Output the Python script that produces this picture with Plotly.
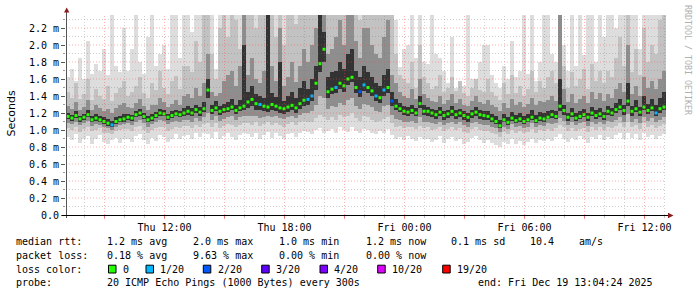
import plotly.graph_objects as go
import pandas as pd

# ---------------- data (ms) ----------------
START = "2025-12-18 07:04:24"
END = "2025-12-19 13:04:24"
STEP_MIN = 12

med = [
 1.16,1.14,1.17,1.13,1.15,1.18,1.12,1.14,1.12,1.10,1.08,1.06,1.10,1.12,1.13,
 1.15,1.14,1.18,1.20,1.16,1.12,1.14,1.17,1.20,1.19,1.15,1.17,1.19,1.18,1.20,
 1.22,1.20,1.24,1.21,1.25,1.47,1.23,1.26,1.22,1.24,1.25,1.27,1.23,1.26,1.28,
 1.33,1.36,1.31,1.30,1.28,1.27,1.30,1.28,1.26,1.25,1.27,1.29,1.26,1.31,1.35,
 1.36,1.40,1.55,1.78,1.95,1.45,1.48,1.50,1.55,1.52,1.60,1.62,1.50,1.45,1.53,
 1.50,1.46,1.40,1.38,1.47,1.50,1.34,1.28,1.25,1.22,1.21,1.23,1.20,1.31,1.22,
 1.22,1.20,1.18,1.21,1.17,1.19,1.22,1.18,1.20,1.17,1.15,1.19,1.21,1.18,1.17,
 1.16,1.13,1.10,1.05,1.12,1.09,1.14,1.11,1.13,1.10,1.12,1.15,1.11,1.14,1.13,
 1.15,1.18,1.16,1.28,1.23,1.15,1.19,1.14,1.16,1.18,1.15,1.20,1.17,1.19,1.16,
 1.22,1.20,1.24,1.27,1.23,1.34,1.22,1.25,1.21,1.27,1.23,1.26,1.20,1.25,1.27,
]
lo0 = [
 0.92,0.88,0.95,0.85,0.90,0.93,0.84,0.89,0.94,0.86,0.83,0.88,0.91,0.85,0.90,
 0.90,0.86,0.93,0.95,0.88,0.84,0.91,0.87,0.94,0.92,0.86,0.89,0.95,0.90,0.93,
 0.94,0.90,0.96,0.92,0.97,0.95,0.91,0.98,0.89,0.93,0.96,0.92,0.88,0.94,0.97,
 0.95,0.92,0.97,0.90,0.94,0.98,0.91,0.96,0.93,0.89,0.95,0.97,0.92,0.96,0.99,
 0.98,0.95,1.00,1.02,0.96,0.99,1.01,0.97,1.03,1.00,0.98,1.04,0.99,0.96,1.01,
 1.00,0.97,0.95,0.99,0.96,1.01,0.94,0.90,0.92,0.88,0.93,0.90,0.87,0.92,0.89,
 0.90,0.86,0.88,0.93,0.85,0.89,0.92,0.87,0.90,0.84,0.86,0.91,0.93,0.88,0.85,
 0.88,0.85,0.82,0.80,0.86,0.83,0.89,0.84,0.87,0.82,0.86,0.90,0.85,0.88,0.87,
 0.90,0.87,0.92,0.95,0.89,0.86,0.91,0.88,0.93,0.90,0.85,0.92,0.89,0.94,0.88,
 0.92,0.89,0.94,0.96,0.90,0.97,0.91,0.95,0.88,0.96,0.92,0.94,0.89,0.93,0.95,
]
lo1 = [
 1.02,1.00,1.04,0.98,1.01,1.03,0.99,1.00,1.02,0.97,0.96,0.95,0.99,1.00,1.01,
 1.01,0.99,1.03,1.05,1.00,0.97,1.00,1.02,1.04,1.03,0.99,1.01,1.04,1.02,1.05,
 1.05,1.02,1.06,1.03,1.07,1.08,1.04,1.08,1.02,1.05,1.07,1.06,1.03,1.06,1.08,
 1.08,1.06,1.09,1.05,1.07,1.10,1.06,1.08,1.06,1.04,1.07,1.09,1.06,1.09,1.11,
 1.10,1.09,1.14,1.18,1.15,1.12,1.15,1.12,1.18,1.15,1.16,1.20,1.14,1.11,1.16,
 1.15,1.12,1.10,1.11,1.13,1.15,1.08,1.04,1.05,1.02,1.04,1.03,1.01,1.05,1.02,
 1.03,1.00,1.01,1.04,0.99,1.01,1.03,1.00,1.02,0.98,0.97,1.01,1.03,1.00,0.99,
 0.99,0.97,0.95,0.92,0.98,0.95,1.00,0.97,0.99,0.96,0.98,1.01,0.97,1.00,0.99,
 1.01,0.99,1.02,1.06,1.03,0.99,1.02,0.99,1.01,1.02,0.98,1.03,1.00,1.03,1.00,
 1.04,1.02,1.05,1.08,1.03,1.10,1.03,1.06,1.01,1.08,1.04,1.06,1.02,1.05,1.07,
]
lo2 = [
 1.08,1.07,1.10,1.06,1.08,1.11,1.05,1.07,1.06,1.04,1.02,1.00,1.04,1.06,1.07,
 1.08,1.06,1.10,1.12,1.08,1.04,1.07,1.09,1.12,1.11,1.07,1.09,1.11,1.10,1.12,
 1.12,1.10,1.14,1.11,1.15,1.20,1.12,1.16,1.11,1.13,1.15,1.16,1.12,1.15,1.17,
 1.17,1.16,1.16,1.14,1.15,1.16,1.15,1.16,1.14,1.13,1.15,1.17,1.14,1.18,1.20,
 1.20,1.22,1.30,1.40,1.38,1.25,1.28,1.27,1.32,1.30,1.35,1.38,1.28,1.25,1.31,
 1.30,1.27,1.22,1.21,1.28,1.30,1.18,1.13,1.12,1.09,1.10,1.11,1.08,1.15,1.10,
 1.10,1.08,1.07,1.10,1.06,1.08,1.10,1.07,1.09,1.06,1.04,1.08,1.10,1.07,1.06,
 1.06,1.04,1.02,0.98,1.04,1.01,1.07,1.03,1.05,1.02,1.04,1.08,1.03,1.06,1.05,
 1.08,1.07,1.08,1.14,1.11,1.06,1.09,1.06,1.08,1.09,1.05,1.10,1.07,1.10,1.07,
 1.11,1.09,1.12,1.15,1.10,1.19,1.10,1.13,1.08,1.15,1.11,1.14,1.09,1.12,1.15,
]
lo3 = [
 1.13,1.11,1.14,1.10,1.12,1.15,1.09,1.11,1.10,1.07,1.05,1.03,1.07,1.09,1.10,
 1.12,1.11,1.15,1.17,1.13,1.09,1.11,1.14,1.17,1.16,1.12,1.14,1.16,1.15,1.17,
 1.18,1.16,1.20,1.17,1.21,1.38,1.19,1.22,1.18,1.20,1.21,1.23,1.19,1.22,1.24,
 1.26,1.28,1.24,1.23,1.22,1.21,1.23,1.22,1.20,1.19,1.21,1.23,1.20,1.25,1.28,
 1.30,1.34,1.47,1.68,1.80,1.38,1.42,1.43,1.48,1.45,1.53,1.56,1.43,1.39,1.46,
 1.43,1.40,1.34,1.32,1.40,1.44,1.28,1.23,1.21,1.18,1.17,1.19,1.16,1.26,1.18,
 1.17,1.15,1.13,1.16,1.12,1.14,1.17,1.13,1.15,1.12,1.10,1.14,1.16,1.13,1.12,
 1.12,1.09,1.07,1.02,1.09,1.06,1.11,1.08,1.10,1.07,1.09,1.12,1.08,1.11,1.10,
 1.13,1.14,1.13,1.22,1.18,1.11,1.15,1.11,1.13,1.15,1.11,1.16,1.13,1.15,1.12,
 1.18,1.16,1.20,1.23,1.18,1.28,1.17,1.21,1.16,1.23,1.19,1.22,1.16,1.20,1.23,
]
hi3 = [
 1.20,1.18,1.22,1.17,1.19,1.23,1.16,1.19,1.17,1.15,1.13,1.11,1.15,1.17,1.19,
 1.19,1.18,1.22,1.25,1.20,1.16,1.19,1.21,1.25,1.23,1.19,1.22,1.24,1.22,1.26,
 1.28,1.26,1.30,1.27,1.33,1.60,1.29,1.34,1.28,1.31,1.33,1.36,1.30,1.35,2.00,
 1.45,1.52,1.42,1.40,1.38,2.50,1.44,1.39,1.80,1.34,1.40,1.45,1.38,1.50,1.58,
 1.48,1.60,1.75,2.50,2.15,1.62,1.68,1.70,1.80,1.72,1.90,1.95,1.70,1.62,1.75,
 1.68,1.62,1.55,1.52,1.65,1.72,1.45,1.36,1.32,1.28,1.27,1.30,1.26,1.40,1.29,
 1.27,1.25,1.23,1.27,1.22,1.24,1.28,1.23,1.25,1.22,1.20,1.24,1.27,1.23,1.22,
 1.22,1.19,1.16,1.12,1.19,1.15,1.21,1.18,1.20,1.16,1.19,1.23,1.18,1.21,1.20,
 1.22,1.24,1.22,1.60,1.30,1.20,1.26,1.20,1.22,1.25,1.20,1.27,1.23,1.26,1.21,
 1.28,1.26,1.32,1.36,1.30,1.55,1.28,1.35,1.27,1.40,1.31,1.36,1.30,1.38,1.45,
]
hi2 = [
 1.28,1.25,1.33,1.24,1.27,1.35,1.23,1.30,1.26,1.22,1.25,1.20,1.26,1.29,1.32,
 1.27,1.26,1.32,1.36,1.28,1.24,1.30,1.29,1.38,1.33,1.27,1.31,1.35,1.30,1.40,
 1.42,1.38,1.50,1.40,1.55,1.90,1.45,1.40,1.44,1.58,1.65,1.70,1.52,1.75,2.50,
 1.65,1.85,1.60,1.55,1.70,2.50,1.75,1.58,2.20,1.52,1.62,1.80,1.57,1.75,1.95,
 1.80,2.00,2.20,2.50,2.50,1.90,1.95,2.10,2.30,2.00,2.40,2.50,2.05,1.85,2.20,
 2.20,2.00,1.90,1.85,2.10,2.30,1.65,1.55,1.45,1.40,1.38,1.48,1.36,1.60,1.42,
 1.38,1.34,1.33,1.40,1.31,1.35,1.42,1.32,1.36,1.30,1.28,1.34,1.40,1.33,1.31,
 1.35,1.30,1.27,1.22,1.32,1.26,1.36,1.29,1.33,1.27,1.31,1.38,1.30,1.34,1.33,
 1.35,1.40,1.34,2.50,1.48,1.33,1.42,1.32,1.36,1.40,1.32,1.45,1.37,1.44,1.34,
 1.42,1.38,1.48,1.55,1.45,2.00,1.42,1.52,1.40,1.62,1.50,1.58,1.48,1.60,1.70,
]
hi1 = [
 1.45,1.38,1.55,1.36,1.42,1.60,1.35,1.48,1.40,1.37,1.52,1.34,1.44,1.50,1.58,
 1.40,1.45,1.52,1.62,1.43,1.38,1.55,1.47,1.70,1.50,1.42,1.58,1.64,1.48,1.75,
 1.75,1.68,2.05,1.80,2.50,2.50,1.90,1.60,2.20,2.50,2.10,2.50,2.30,1.95,2.50,
 2.50,2.50,2.20,2.50,2.35,2.50,2.50,2.10,2.50,2.00,2.50,2.50,2.25,2.50,2.50,
 2.50,2.50,2.50,2.50,2.50,2.40,2.50,2.50,2.50,2.35,2.50,2.50,2.50,2.30,2.50,
 2.50,2.50,2.50,2.50,2.50,2.50,2.50,1.90,1.65,1.60,1.55,1.80,1.50,2.00,1.62,
 1.55,1.48,1.52,1.65,1.45,1.50,1.62,1.46,1.58,1.44,1.40,1.50,1.60,1.47,1.45,
 1.60,1.45,1.40,1.35,1.55,1.42,1.65,1.44,1.52,1.40,1.48,1.70,1.45,1.58,1.50,
 1.62,1.70,1.55,2.50,1.75,1.50,1.68,1.52,1.60,1.72,1.48,1.78,1.58,1.70,1.55,
 1.70,1.62,1.85,2.10,1.75,2.50,1.68,1.95,1.65,2.20,1.80,2.00,1.90,2.30,2.50,
]
hi0 = [
 1.62,1.72,1.58,1.85,1.60,2.05,1.66,1.78,1.70,1.95,1.65,2.50,1.75,1.68,2.20,
 1.70,1.95,2.50,1.80,1.66,2.10,2.50,1.75,1.90,2.00,1.72,2.50,2.50,1.85,2.50,
 2.50,2.15,2.50,2.50,2.50,2.50,2.50,1.72,2.50,2.50,2.50,2.50,2.50,2.50,2.50,
 2.50,2.50,2.50,2.50,2.50,2.50,2.50,2.50,2.50,2.50,2.50,2.50,2.50,2.50,2.50,
 2.50,2.50,2.50,2.50,2.50,2.50,2.50,2.50,2.50,2.50,2.50,2.50,2.50,2.50,2.50,
 2.50,2.50,2.50,2.50,2.50,2.50,2.50,2.30,1.74,1.95,2.00,2.50,1.85,2.50,1.80,
 1.78,2.50,1.90,1.85,1.70,1.55,2.10,1.50,1.48,1.52,2.50,1.60,1.55,1.80,2.00,
 2.00,1.65,1.55,1.50,1.75,1.60,2.05,1.62,1.70,2.50,1.66,2.50,1.58,1.80,2.50,
 2.50,1.90,1.80,2.50,2.00,1.70,2.50,1.75,2.50,1.88,2.50,2.50,1.80,2.50,2.10,
 2.50,2.50,2.20,2.50,2.50,2.50,2.50,2.50,1.95,2.50,2.50,2.50,2.50,2.50,2.50,
]
# lost pings (out of 20) per step
loss = [0]*150
for idx, v in [(11,1),(48,1),(60,1),(61,1),(67,1),(73,2),(74,1),(77,1),(79,1),(81,2),(147,1)]:
    loss[idx] = v

loss_levels = ["0", "1/20", "2/20", "3/20", "4/20", "10/20", "19/20"]
loss_colors = ["#26ff00", "#00b8ff", "#0059ff", "#5e00ff", "#7e00ff", "#dd00ff", "#ff0000"]
loss_count = [0, 1, 2, 3, 4, 10, 19]

y_tickvals = [0.0, 0.2, 0.4, 0.6, 0.8, 1.0, 1.2, 1.4, 1.6, 1.8, 2.0, 2.2]
y_ticktext = ["0.0"] + ["%.1f m" % v for v in y_tickvals[1:]]
x_label_times = ["2025-12-18 12:00", "2025-12-18 18:00", "2025-12-19 00:00",
                 "2025-12-19 06:00", "2025-12-19 12:00"]
x_label_text = ["Thu 12:00", "Thu 18:00", "Fri 00:00", "Fri 06:00", "Fri 12:00"]

legend_rows = [
    [(16, "median rtt:"), (107.3, "1.2 ms avg"), (193.3, "2.0 ms max"), (279.3, "1.0 ms min"),
     (366, "1.2 ms now"), (451, "0.1 ms sd"), (530, "10.4"), (579, "am/s")],
    [(16, "packet loss:"), (107.3, "0.18 % avg"), (193.3, "9.63 % max"), (279.3, "0.00 % min"),
     (366, "0.00 % now")],
    [(16, "loss color:")],
    [(16, "probe:"), (107.3, "20 ICMP Echo Pings (1000 Bytes) every 300s"),
     (478.3, "end: Fri Dec 19 13:04:24 2025")],
]
legend_row_y = [241.5, 255.2, 269, 282.8]
loss_box_x = [108.5, 146, 203.3, 261.7, 320, 377.7, 442.7]

# ---------------- layout geometry ----------------
WIDTH, HEIGHT = 697, 297
L, T, PW, PH = 66, 15, 600, 200
YMAX = PH / 85.0
MONO = "DejaVu Sans Mono"

def pxx(x):
    return (x - L) / PW

def pxy(y):
    return (T + PH - y) / PH

t0 = pd.Timestamp(START)
times = [t0 + pd.Timedelta(minutes=STEP_MIN * (i + 0.5)) for i in range(len(med))]
bar_w = STEP_MIN * 60 * 1000

fig = go.Figure()
bands = [(lo0, hi0, "#dddddd"), (lo1, hi1, "#c2c2c2"), (lo2, hi2, "#8e8e8e"), (lo3, hi3, "#333333")]
for lo, hi, col in bands:
    fig.add_trace(go.Bar(x=times, base=lo, y=[h - l for l, h in zip(lo, hi)], width=bar_w,
                         marker=dict(color=col, line=dict(width=0)), hoverinfo="skip",
                         showlegend=False))

fig.add_trace(go.Scatter(x=times, y=med, mode="markers",
                         marker=dict(symbol="square", size=3, line=dict(width=0),
                                     color=[loss_colors[loss_count.index(l)] for l in loss]),
                         showlegend=False, hoverinfo="skip"))

RED = "rgba(255,70,70,0.42)"
GREY = "rgba(120,120,120,0.35)"
shapes = []
# grid (drawn above the smoke like rrdtool)
for h in range(8, 38):
    t = pd.Timestamp("2025-12-18") + pd.Timedelta(hours=h)
    red = (h % 3 == 0)
    shapes.append(dict(type="line", xref="x", yref="paper", x0=t, x1=t, y0=0, y1=1, layer="above",
                       line=dict(color=RED if red else GREY, width=1, dash="1px,2px")))
for k in range(1, 24):
    v = k / 10.0
    red = (k % 2 == 0)
    shapes.append(dict(type="line", xref="paper", yref="y", x0=0, x1=1, y0=v, y1=v, layer="above",
                       line=dict(color=RED if red else GREY, width=1, dash="1px,2px")))
# axes + arrows
shapes.append(dict(type="line", xref="paper", yref="paper", x0=pxx(66.5), x1=pxx(66.5),
                   y0=pxy(218), y1=pxy(11), line=dict(color="#555555", width=1), layer="above"))
shapes.append(dict(type="line", xref="paper", yref="paper", x0=pxx(62), x1=pxx(669),
                   y0=pxy(215.5), y1=pxy(215.5), line=dict(color="#000000", width=1), layer="above"))
shapes.append(dict(type="path", xref="paper", yref="paper", layer="above",
                   path="M %f %f L %f %f L %f %f Z" % (pxx(64), pxy(12.5), pxx(66.7), pxy(7.5), pxx(69.4), pxy(12.5)),
                   fillcolor="#8b1a1a", line=dict(width=0)))
shapes.append(dict(type="path", xref="paper", yref="paper", layer="above",
                   path="M %f %f L %f %f L %f %f Z" % (pxx(668), pxy(212.8), pxx(673.5), pxy(215.5), pxx(668), pxy(218.2)),
                   fillcolor="#8b1a1a", line=dict(width=0)))
# loss colour boxes
for bx, col in zip(loss_box_x, loss_colors):
    shapes.append(dict(type="rect", xref="paper", yref="paper", x0=pxx(bx), x1=pxx(bx + 7.5),
                       y0=pxy(273), y1=pxy(265.2), fillcolor=col, line=dict(color="#000", width=1)))

ann = []
for row, yy in zip(legend_rows, legend_row_y):
    for xx, txt in row:
        ann.append(dict(text=txt, x=pxx(xx), y=pxy(yy), xref="paper", yref="paper",
                        xanchor="left", yanchor="middle", showarrow=False, borderpad=0, borderwidth=0,
                        font=dict(family=MONO, size=10, color="#000")))
for bx, lab in zip(loss_box_x, loss_levels):
    ann.append(dict(text=lab, x=pxx(bx + 14.3), y=pxy(269), xref="paper", yref="paper",
                    xanchor="left", yanchor="middle", showarrow=False, borderpad=0, borderwidth=0,
                    font=dict(family=MONO, size=10, color="#000")))
ann.append(dict(text="Seconds", x=pxx(10.5), y=pxy(114), xref="paper", yref="paper",
                textangle=-90, showarrow=False, xanchor="center", yanchor="middle",
                font=dict(family="DejaVu Sans", size=11, color="#000")))
ann.append(dict(text="RRDTOOL / TOBI OETIKER", x=pxx(688), y=pxy(60), xref="paper", yref="paper",
                textangle=90, showarrow=False, xanchor="center", yanchor="middle",
                font=dict(family=MONO, size=8.3, color="#b0b0b0")))

x_tickvals = [pd.Timestamp("2025-12-18") + pd.Timedelta(hours=h) for h in range(9, 37, 3)]
x_ticktext = []
for tv in x_tickvals:
    s = tv.strftime("%Y-%m-%d %H:%M")
    x_ticktext.append(x_label_text[x_label_times.index(s)] if s in x_label_times else "")

fig.update_layout(
    width=WIDTH, height=HEIGHT,
    margin=dict(l=L, r=WIDTH - L - PW, t=T, b=HEIGHT - T - PH, pad=0),
    paper_bgcolor="white", plot_bgcolor="white",
    barmode="overlay", bargap=0,
    showlegend=False,
    shapes=shapes, annotations=ann,
    xaxis=dict(type="date", range=[START, END], showgrid=False, zeroline=False, showline=False,
               tickmode="array", tickvals=x_tickvals, ticktext=x_ticktext,
               ticks="outside", ticklen=3, tickcolor="rgba(255,80,80,0.6)",
               tickfont=dict(family=MONO, size=10, color="#000"),
               minor=dict(dtick=3600000, tick0="2025-12-18 00:00", ticks="outside", ticklen=2,
                          tickcolor="#c0c0c0", showgrid=False)),
    yaxis=dict(range=[0, YMAX], showgrid=False, zeroline=False, showline=False,
               tickmode="array", tickvals=y_tickvals, ticktext=y_ticktext,
               ticks="outside", ticklen=4, tickcolor="#555",
               tickfont=dict(family=MONO, size=10, color="#000"),
               minor=dict(dtick=0.1, tick0=0, ticks="outside", ticklen=2, tickcolor="#999",
                          showgrid=False)),
)

fig.write_html("out.html")
